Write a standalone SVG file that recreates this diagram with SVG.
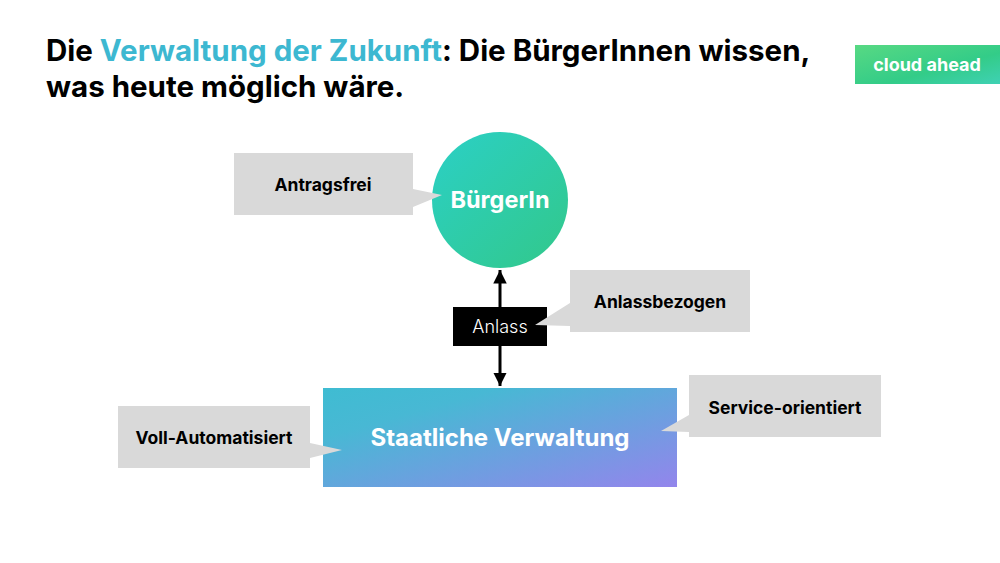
<svg xmlns="http://www.w3.org/2000/svg" width="1000" height="563" viewBox="0 0 1000 563">
<defs>
<linearGradient id="gBadge" x1="0" y1="0" x2="1" y2="1">
<stop offset="0" stop-color="#58d983"/><stop offset="0.6" stop-color="#33cc88"/><stop offset="1" stop-color="#3fd1b4"/>
</linearGradient>
<linearGradient id="gCircle" x1="0" y1="0" x2="1" y2="1">
<stop offset="0" stop-color="#2bd0c6"/><stop offset="1" stop-color="#32c88a"/>
</linearGradient>
<linearGradient id="gBox" x1="0" y1="0" x2="1" y2="1">
<stop offset="0" stop-color="#3fbcd2"/><stop offset="0.25" stop-color="#48b8d4"/><stop offset="1" stop-color="#9385ec"/>
</linearGradient>
<marker id="ah" viewBox="0 0 10 10" refX="10" refY="5" markerWidth="4.5" markerHeight="4.5" orient="auto-start-reverse" markerUnits="strokeWidth">
<path d="M0,0 L10,5 L0,10 z" fill="#000"/>
</marker>
<style>
.t{font-family:Inter,"Noto Sans","Liberation Sans",sans-serif;font-weight:700}
.title{font-size:29.5px;fill:#000}
.cl{fill:#d9d9d9}
.ct{font-size:17.5px;fill:#000;text-anchor:middle}
.wt{fill:#fff;text-anchor:middle}
</style>
</defs>
<rect width="1000" height="563" fill="#fff"/>
<g id="title">
<text class="t title" x="46" y="61">Die <tspan fill="#3db8d1">Verwaltung der Zukunft</tspan>: Die BürgerInnen wissen,</text>
<text class="t title" x="46" y="97">was heute möglich wäre.</text>
</g>
<g id="badge">
<rect x="855" y="45" width="145" height="39" fill="url(#gBadge)"/>
<text class="t wt" x="927" y="71" font-size="18">cloud ahead</text>
</g>
<g id="connectors">
<line x1="500" y1="270" x2="500" y2="386" stroke="#000" stroke-width="3" marker-start="url(#ah)" marker-end="url(#ah)"/>
</g>
<g id="buerger">
<circle cx="500" cy="200" r="68" fill="url(#gCircle)"/>
<text class="t wt" x="500" y="208" font-size="23.5">BürgerIn</text>
</g>
<g id="anlass">
<rect x="453" y="307" width="94" height="39" fill="#000"/>
<text x="500" y="333" font-family="Inter,'Noto Sans','Liberation Sans',sans-serif" font-size="18" font-weight="300" fill="#fff" text-anchor="middle">Anlass</text>
</g>
<g id="verwaltung">
<rect x="323" y="388" width="354" height="99" fill="url(#gBox)"/>
<text class="t wt" x="500" y="446" font-size="24">Staatliche Verwaltung</text>
</g>
<g id="antragsfrei">
<path class="cl" d="M234,153 H413 V189 L442,195 L413,207 V215 H234 Z"/>
<text class="t ct" x="323" y="191">Antragsfrei</text>
</g>
<g id="anlassbezogen">
<path class="cl" d="M570,270 H750 V332 H570 V326 L535,325 L570,303 Z"/>
<text class="t ct" x="660" y="308">Anlassbezogen</text>
</g>
<g id="vollautomatisiert">
<path class="cl" d="M118,406 H310 V443 L342,450 L310,458 V468 H118 Z"/>
<text class="t ct" x="214" y="444">Voll-Automatisiert</text>
</g>
<g id="serviceorientiert">
<path class="cl" d="M689,375 H881 V437 H689 V432 L661,431 L689,415 Z"/>
<text class="t ct" x="785" y="414">Service-orientiert</text>
</g>
</svg>
